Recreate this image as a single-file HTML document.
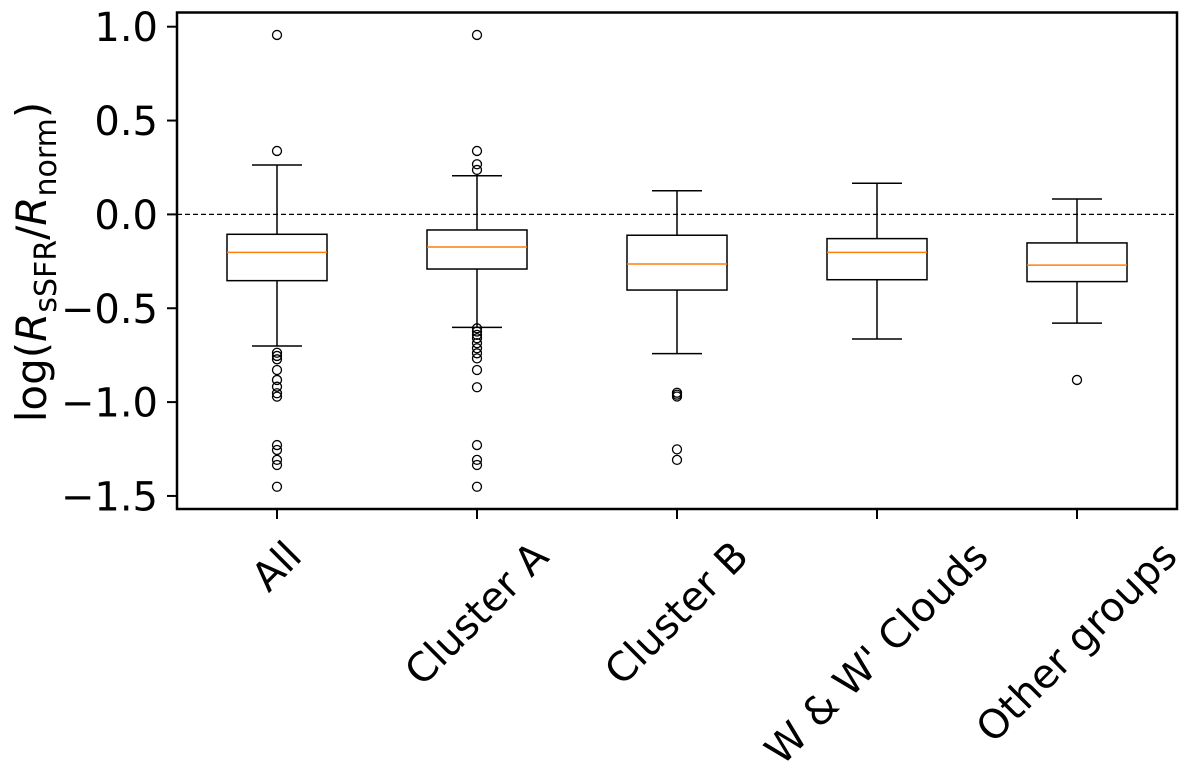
<!DOCTYPE html>
<html><head><meta charset="utf-8"><style>
html,body{margin:0;padding:0;background:#fff;}
svg{display:block;font-family:"DejaVu Sans","Liberation Sans",sans-serif;}
</style></head><body>
<svg id="chart" width="1200" height="784" viewBox="0 0 1200 784" xmlns="http://www.w3.org/2000/svg">
<g id="plot"></g>
<text transform="translate(46,262) rotate(-90)" text-anchor="middle" font-size="42">log(<tspan font-style="italic">R</tspan><tspan font-size="30" dy="10">sSFR</tspan><tspan dy="-10">/</tspan><tspan font-style="italic">R</tspan><tspan font-size="30" dy="10">norm</tspan><tspan dy="-10">)</tspan></text>
</svg>
<script>
const categories = ["All","Cluster A","Cluster B","W & W' Clouds","Other groups"];
const whiskerLow = [-0.701,-0.602,-0.742,-0.664,-0.579];
const q1 = [-0.353,-0.291,-0.403,-0.348,-0.358];
const medians = [-0.202,-0.174,-0.264,-0.202,-0.270];
const q3 = [-0.106,-0.083,-0.111,-0.129,-0.152];
const whiskerHigh = [0.263,0.206,0.126,0.166,0.082];
const outliersAll = [0.956,0.338,-0.737,-0.754,-0.772,-0.829,-0.882,-0.918,-0.953,-0.971,-1.229,-1.255,-1.308,-1.335,-1.451];
const outliersA = [0.956,0.338,0.267,0.237,-0.607,-0.624,-0.642,-0.660,-0.686,-0.713,-0.740,-0.767,-0.829,-0.921,-1.229,-1.308,-1.335,-1.451];
const outliersB = [-0.950,-0.960,-0.970,-1.252,-1.308];
const outliersW = [];
const outliersO = [-0.882];
const outliers = [outliersAll,outliersA,outliersB,outliersW,outliersO];
const yTicks = [1.0,0.5,0.0,-0.5,-1.0,-1.5];
const yTickLabels = ["1.0","0.5","0.0","\u22120.5","\u22121.0","\u22121.5"];

const L=177,R=1177,T=12.5,B=509;
function y(v){return 214.4-(v)*187.7;}
function x(i){return L+(i+0.5)*(R-L)/categories.length;}
const NS="http://www.w3.org/2000/svg";
const svg=document.getElementById('chart');
const g=document.getElementById('plot');
function mk(tag,attrs,parent){const e=document.createElementNS(NS,tag);for(const k in attrs)e.setAttribute(k,attrs[k]);(parent||g).appendChild(e);return e;}

let zl=mk('line',{x1:L,x2:R,y1:y(0),y2:y(0),stroke:'#000','stroke-width':1.3,'stroke-dasharray':'5,3'});



const hw=50, cw=25;
categories.forEach((c,i)=>{
  const cx=x(i);
  const grp=mk('g',{});
  
  
  const st={stroke:'#000','stroke-width':1.5,fill:'none'};
  mk('line',Object.assign({x1:cx,x2:cx,y1:y(whiskerHigh[i]),y2:y(q3[i])},st),grp);
  mk('line',Object.assign({x1:cx,x2:cx,y1:y(q1[i]),y2:y(whiskerLow[i])},st),grp);
  mk('line',Object.assign({x1:cx-cw,x2:cx+cw,y1:y(whiskerHigh[i]),y2:y(whiskerHigh[i])},st),grp);
  mk('line',Object.assign({x1:cx-cw,x2:cx+cw,y1:y(whiskerLow[i]),y2:y(whiskerLow[i])},st),grp);
  mk('rect',Object.assign({x:cx-hw,y:y(q3[i]),width:2*hw,height:y(q1[i])-y(q3[i])},st),grp);
  let md=mk('line',{x1:cx-hw,x2:cx+hw,y1:y(medians[i]),y2:y(medians[i]),stroke:'#ff7f0e','stroke-width':1.5},grp);
  
  
  outliers[i].forEach(v=>{
    const o=mk('circle',{cx:cx,cy:y(v),r:4.5,fill:'none',stroke:'#000','stroke-width':1.3},grp);
    
    
  });
  const t=mk('line',{x1:cx,x2:cx,y1:B,y2:B+10,stroke:'#000','stroke-width':2});
  
  
  const lb=mk('text',{x:cx,y:0,'text-anchor':'middle','dominant-baseline':'central','font-size':40,transform:`rotate(-45 ${cx} 0)`});
  lb.textContent=c;
  
  
  const bb=lb.getBoundingClientRect();
  const sr=svg.getBoundingClientRect();
  const top=bb.top-sr.top;
  const dy=533-top;
  lb.setAttribute('transform',`translate(0 ${dy}) rotate(-45 ${cx} 0)`);
});

yTicks.forEach((v,i)=>{
  const t=mk('line',{x1:L-10,x2:L,y1:y(v),y2:y(v),stroke:'#000','stroke-width':2});
  
  
  const lb=mk('text',{x:L-19,y:y(v)+14.5,'text-anchor':'end','font-size':40});
  lb.textContent=yTickLabels[i];
  
  
});

const fr=mk('rect',{x:L,y:T,width:R-L,height:B-T,fill:'none',stroke:'#000','stroke-width':2.5});


</script>
</body></html>
